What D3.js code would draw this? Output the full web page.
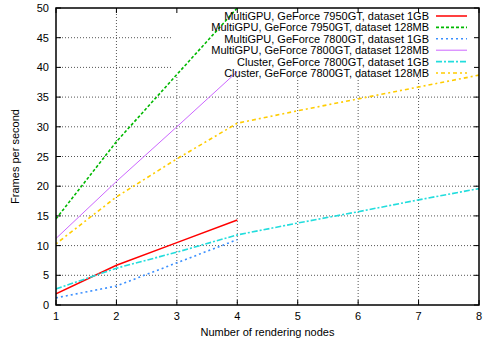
<!DOCTYPE html>
<html>
<head>
<meta charset="utf-8">
<script src="https://cdn.jsdelivr.net/npm/d3@7"></script>
<style>
  body { margin: 0; background: #fff; }
  text { font-family: "Liberation Sans", Arial, sans-serif; font-size: 11px; fill: #000; }
</style>
</head>
<body>
<div id="chart"></div>
<script>
// data
var nodes = [1, 2, 3, 4, 5, 6, 7, 8];
var xTicks = [1, 2, 3, 4, 5, 6, 7, 8];
var yTicks = [0, 5, 10, 15, 20, 25, 30, 35, 40, 45, 50];

var seriesNames = [
    "MultiGPU, GeForce 7950GT, dataset 1GB",
    "MultiGPU, GeForce 7950GT, dataset 128MB",
    "MultiGPU, GeForce 7800GT, dataset 1GB",
    "MultiGPU, GeForce 7800GT, dataset 128MB",
    "Cluster, GeForce 7800GT, dataset 1GB",
    "Cluster, GeForce 7800GT, dataset 128MB"
];
var gpu7950_1GB = [1.9, 6.7, 10.5, 14.3];
var gpu7950_128MB = [14.5, 27.5, 38.8, 50];
var gpu7800_1GB = [1.2, 3.2, 7.1, 11.0];
var gpu7800_128MB = [11.2, 20.8, 30.0, 39.3];
var cluster_1GB = [2.7, 6.2, 8.9, 11.8, 13.8, 15.7, 17.7, 19.6];
var cluster_128MB = [10.3, 18.2, 24.6, 30.6, 32.7, 34.7, 36.7, 38.7];

var seriesValues = [gpu7950_1GB, gpu7950_128MB, gpu7800_1GB, gpu7800_128MB, cluster_1GB, cluster_128MB];

// line styles, same order as the series
var colors = ["#ff0000", "#00b800", "#3a8fff", "#cc66ff", "#22dddd", "#ffcc00"];
var dashes = [null, "3,2", "2,3", null, "6,2,2,2", "2,3,4,3"];
var widths = [1.5, 1.6, 1.6, 1, 1.6, 1.6];

var W = 488, H = 344;
var margin = {left: 56, right: 9, top: 8, bottom: 39};
var width = W - margin.left - margin.right;
var height = H - margin.top - margin.bottom;

var svg = d3.select("#chart").append("svg")
    .attr("width", W)
    .attr("height", H);

var g = svg.append("g")
    .attr("transform", "translate(" + margin.left + "," + margin.top + ")");

var x = d3.scaleLinear().domain([1, 8]).range([0, width]);
var y = d3.scaleLinear().domain([0, 50]).range([height, 0]);

// grid
g.append("g").attr("class", "grid")
    .selectAll("line.gx")
    .data(xTicks.slice(1, -1))
    .enter().append("line")
    .attr("x1", d => x(d)).attr("x2", d => x(d))
    .attr("y1", 0).attr("y2", height)
    .attr("stroke", "#555").attr("stroke-width", 1).attr("stroke-dasharray", "1,2");

g.append("g").attr("class", "grid")
    .selectAll("line.gy")
    .data(yTicks.slice(1, -1))
    .enter().append("line")
    .attr("x1", 0).attr("x2", width)
    .attr("y1", d => y(d)).attr("y2", d => y(d))
    .attr("stroke", "#555").attr("stroke-width", 1).attr("stroke-dasharray", "1,2");

// key area hides the grid behind it
var keyLeft = 117, keyBottom = 68;
g.append("rect")
    .attr("x", keyLeft).attr("y", 0)
    .attr("width", width - keyLeft).attr("height", keyBottom)
    .attr("fill", "#fff");

// tick marks, inward on all four sides
var tickLen = 5;
var ticks = g.append("g").attr("stroke", "#000").attr("stroke-width", 1);
xTicks.forEach(function (t) {
    ticks.append("line").attr("x1", x(t)).attr("x2", x(t)).attr("y1", height).attr("y2", height - tickLen);
    ticks.append("line").attr("x1", x(t)).attr("x2", x(t)).attr("y1", 0).attr("y2", tickLen);
});
yTicks.forEach(function (t) {
    ticks.append("line").attr("x1", 0).attr("x2", tickLen).attr("y1", y(t)).attr("y2", y(t));
    ticks.append("line").attr("x1", width).attr("x2", width - tickLen).attr("y1", y(t)).attr("y2", y(t));
});

// tick labels
g.selectAll("text.xt")
    .data(xTicks)
    .enter().append("text")
    .attr("x", d => x(d))
    .attr("y", height + 15)
    .attr("text-anchor", "middle")
    .text(d => d);

g.selectAll("text.yt")
    .data(yTicks)
    .enter().append("text")
    .attr("x", -7)
    .attr("y", d => y(d) + 4)
    .attr("text-anchor", "end")
    .text(d => d);

// axis titles
g.append("text")
    .attr("x", width / 2)
    .attr("y", height + 31)
    .attr("text-anchor", "middle")
    .text("Number of rendering nodes");

g.append("text")
    .attr("transform", "rotate(-90)")
    .attr("x", -height / 2)
    .attr("y", -37)
    .attr("text-anchor", "middle")
    .text("Frames per second");

// the lines
var line = d3.line()
    .x((d, i) => x(nodes[i]))
    .y(d => y(d));

g.append("clipPath").attr("id", "plotclip")
    .append("rect").attr("width", width).attr("height", height);

seriesValues.forEach(function (vals, i) {
    g.append("path")
        .datum(vals)
        .attr("clip-path", "url(#plotclip)")
        .attr("fill", "none")
        .attr("stroke", colors[i])
        .attr("stroke-width", widths[i])
        .attr("stroke-dasharray", dashes[i])
        .attr("d", line);
});

// key
var keyTextX = 373, keySampleX1 = 380, keySampleX2 = 411, keyRow0 = 8, keyRowH = 11.4;
seriesNames.forEach(function (name, i) {
    var ry = keyRow0 + i * keyRowH;
    g.append("text")
        .attr("x", keyTextX)
        .attr("y", ry + 4)
        .attr("text-anchor", "end")
        .text(name);
    g.append("line")
        .attr("x1", keySampleX1).attr("x2", keySampleX2)
        .attr("y1", ry).attr("y2", ry)
        .attr("stroke", colors[i])
        .attr("stroke-width", widths[i])
        .attr("stroke-dasharray", dashes[i]);
});

// frame
g.append("rect")
    .attr("width", width).attr("height", height)
    .attr("fill", "none")
    .attr("stroke", "#000")
    .attr("stroke-width", 1.5);
</script>
</body>
</html>
